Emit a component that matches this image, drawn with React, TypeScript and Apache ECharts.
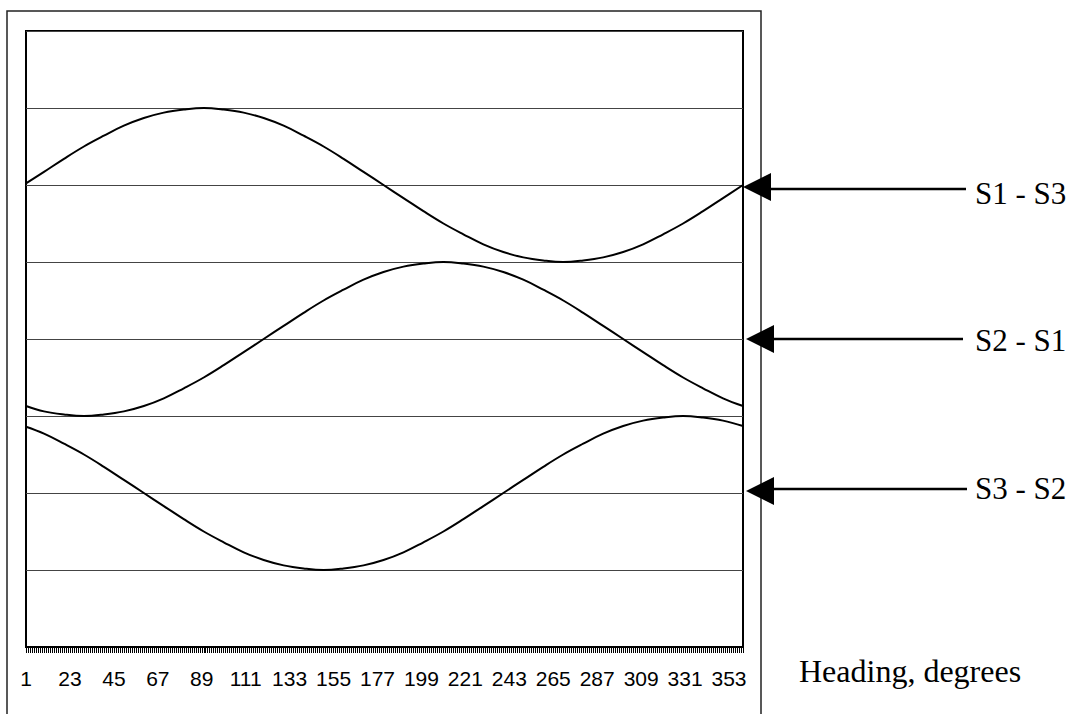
import React, { useEffect, useRef } from "react";
import * as echarts from "echarts";

// Headings (categories) 1..360 degrees
const headings: string[] = Array.from({ length: 360 }, (_, i) => String(i + 1));

const sampleHeadings: string[] = [
  "1", "10", "20", "30", "40", "50", "60", "70", "80", "90",
  "100", "110", "120", "130", "140", "150", "160", "170", "180", "190",
  "200", "210", "220", "230", "240", "250", "260", "270", "280", "290",
  "300", "310", "320", "330", "340", "350", "360",
];

const s1s3: number[] = [
  6.02, 6.17, 6.34, 6.5, 6.64, 6.77, 6.87, 6.94, 6.98, 7.0,
  6.98, 6.94, 6.87, 6.77, 6.64, 6.5, 6.34, 6.17, 6.0, 5.83,
  5.66, 5.5, 5.36, 5.23, 5.13, 5.06, 5.02, 5.0, 5.02, 5.06,
  5.13, 5.23, 5.36, 5.5, 5.66, 5.83, 6.0,
];

const s2s1: number[] = [
  3.13, 3.06, 3.02, 3.0, 3.02, 3.06, 3.13, 3.23, 3.36, 3.5,
  3.66, 3.83, 4.0, 4.17, 4.34, 4.5, 4.64, 4.77, 4.87, 4.94,
  4.98, 5.0, 4.98, 4.94, 4.87, 4.77, 4.64, 4.5, 4.34, 4.17,
  4.0, 3.83, 3.66, 3.5, 3.36, 3.23, 3.13,
];

const s3s2: number[] = [
  2.86, 2.77, 2.64, 2.5, 2.34, 2.17, 2.0, 1.83, 1.66, 1.5,
  1.36, 1.23, 1.13, 1.06, 1.02, 1.0, 1.02, 1.06, 1.13, 1.23,
  1.36, 1.5, 1.66, 1.83, 2.0, 2.17, 2.34, 2.5, 2.64, 2.77,
  2.87, 2.94, 2.98, 3.0, 2.98, 2.94, 2.87,
];

const seriesLabels: string[] = ["S1 - S3", "S2 - S1", "S3 - S2"];
const xAxisTitle = "Heading, degrees";

const pair = (vals: number[]) => sampleHeadings.map((h, i) => [h, vals[i]]);

const SERIF_FAMILY = "'Liberation Serif', 'DejaVu Serif', serif";

function arrow(tipX: number, tipY: number, shaftY: number, endX: number, label: string, labelY: number) {
  return [
    {
      type: "polygon",
      shape: { points: [[tipX, tipY], [tipX + 28, tipY - 14], [tipX + 28, tipY + 14]] },
      style: { fill: "#000" },
    },
    {
      type: "line",
      shape: { x1: tipX + 26, y1: shaftY, x2: endX, y2: shaftY },
      style: { stroke: "#000", lineWidth: 2.5 },
    },
    {
      type: "text",
      x: 975,
      y: labelY,
      style: {
        text: label,
        font: "31px " + SERIF_FAMILY,
        fill: "#000",
        textAlign: "left",
        textVerticalAlign: "middle",
      },
    },
  ];
}

export default function App() {
  const ref = useRef<HTMLDivElement>(null);
  useEffect(() => {
    if (!ref.current) return;
    const chart = echarts.init(ref.current, undefined, { renderer: "svg" });
    const lineStyle = { color: "#000", width: 2 };
    chart.setOption({
      animation: false,
      backgroundColor: "#fff",
      grid: {
        left: 26,
        top: 31,
        right: 326,
        bottom: 67,
        show: true,
        borderColor: "#000",
        borderWidth: 2,
        backgroundColor: "transparent",
      },
      xAxis: {
        type: "category",
        data: headings,
        boundaryGap: false,
        axisLine: { show: true, lineStyle: { color: "#000", width: 2 } },
        axisTick: { show: true, interval: 0, length: 6, lineStyle: { color: "#000", width: 1 } },
        axisLabel: {
          show: true,
          interval: 21,
          margin: 21,
          hideOverlap: false,
          fontSize: 21,
          color: "#000",
          fontFamily: "Liberation Sans",
        },
        splitLine: { show: false },
      },
      yAxis: {
        type: "value",
        min: 0,
        max: 8,
        interval: 1,
        axisLine: { show: false },
        axisTick: { show: false },
        axisLabel: { show: false },
        splitLine: { show: true, lineStyle: { color: "#444", width: 1 } },
      },
      series: [
        { name: seriesLabels[0], type: "line", data: pair(s1s3), smooth: 0.4, symbol: "none", lineStyle },
        { name: seriesLabels[1], type: "line", data: pair(s2s1), smooth: 0.4, symbol: "none", lineStyle },
        { name: seriesLabels[2], type: "line", data: pair(s3s2), smooth: 0.4, symbol: "none", lineStyle },
      ],
      graphic: [
        {
          type: "rect",
          shape: { x: 7, y: 11, width: 754, height: 760 },
          style: { fill: "none", stroke: "#222", lineWidth: 1.5 },
          silent: true,
        },
        ...arrow(743, 187, 189, 966, seriesLabels[0], 193),
        ...arrow(746, 339, 339, 963, seriesLabels[1], 340),
        ...arrow(746, 491, 489, 967, seriesLabels[2], 488),
        {
          type: "text",
          x: 799,
          y: 671,
          style: {
            text: xAxisTitle,
            font: "32px " + SERIF_FAMILY,
            fill: "#000",
            textAlign: "left",
            textVerticalAlign: "middle",
          },
        },
      ],
    });
    return () => chart.dispose();
  }, []);
  return (
    <div
      ref={ref}
      style={{ position: "fixed", left: 0, top: 0, width: 1069, height: 714, background: "#fff" }}
    />
  );
}
